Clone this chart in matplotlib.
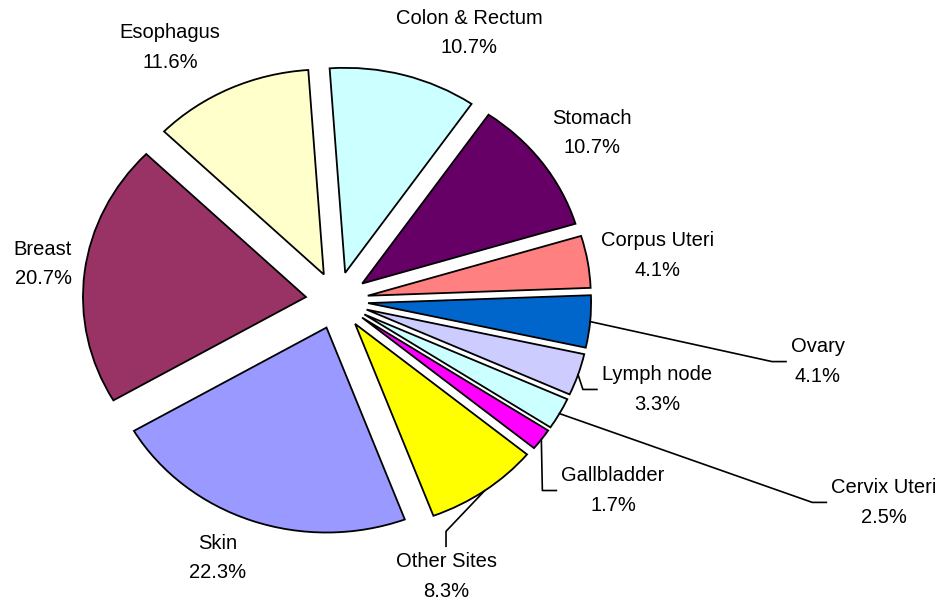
import matplotlib
matplotlib.use('Agg')
import numpy as np
import matplotlib.pyplot as plt

# slices, clockwise from 12 o'clock
sites = ['Colon & Rectum', 'Stomach', 'Corpus Uteri', 'Ovary', 'Lymph node',
         'Cervix Uteri', 'Gallbladder', 'Other Sites', 'Skin', 'Breast', 'Esophagus']
shares = [10.7, 10.7, 4.1, 4.1, 3.3, 2.5, 1.7, 8.3, 22.3, 20.7, 11.6]
colors = ['#CCFFFF', '#660066', '#FF8080', '#0066CC', '#CCCCFF',
          '#CCFFFF', '#FF00FF', '#FFFF00', '#9999FF', '#993366', '#FFFFCC']

# label centres in data units (pie radius = 1)
label_xy = [(0.592, 1.305), (1.143, 0.817), (1.439, 0.220), (2.157, -0.298),
            (1.435, -0.434), (2.453, -0.985), (1.238, -0.927), (0.489, -1.346),
            (-0.534, -1.256), (-1.318, 0.180), (-0.749, 1.234)]
# labels with a leader line, and which side of the label it meets
leader = {'Ovary': 'left', 'Lymph node': 'left', 'Cervix Uteri': 'left',
          'Gallbladder': 'left', 'Other Sites': 'top'}

plt.rcParams['font.family'] = ['Liberation Sans', 'DejaVu Sans']

fig = plt.figure(figsize=(9.44, 6.01), dpi=100)
ax = fig.add_axes([0, 0, 1, 1])
wedges, _ = ax.pie(shares, explode=[0.14] * len(shares), colors=colors,
                   startangle=94, counterclock=False,
                   wedgeprops=dict(edgecolor='black', linewidth=1.3))
ax.set_aspect('auto')
ax.set_xlim(-1.511, 2.722)
ax.set_ylim(-1.466, 1.466)
ax.axis('off')

texts = []
for name, val, (x, y) in zip(sites, shares, label_xy):
    t = ax.text(x, y, '{}\n{:.1f}%'.format(name, val), ha='center', va='center',
                fontsize=14.5, linespacing=1.68, color='black')
    texts.append(t)

fig.canvas.draw()
renderer = fig.canvas.get_renderer()
to_data = ax.transData.inverted()
for w, t, name in zip(wedges, texts, sites):
    side = leader.get(name)
    if side is None:
        continue
    mid = np.deg2rad((w.theta1 + w.theta2) / 2)
    cx, cy = w.center
    sx, sy = cx + w.r * np.cos(mid), cy + w.r * np.sin(mid)
    bb = t.get_window_extent(renderer)
    if side == 'left':
        ex, ey = bb.x0 - 5, (bb.y0 + bb.y1) / 2
        kx, ky = ex - 14, ey
    else:
        ex, ey = (bb.x0 + bb.x1) / 2, bb.y1 + 6
        kx, ky = ex, ey + 15
    (ex, ey), (kx, ky) = to_data.transform([(ex, ey), (kx, ky)])
    ax.plot([sx, kx, ex], [sy, ky, ey], color='black', lw=1.2)

fig.savefig('out.png', dpi=100)
